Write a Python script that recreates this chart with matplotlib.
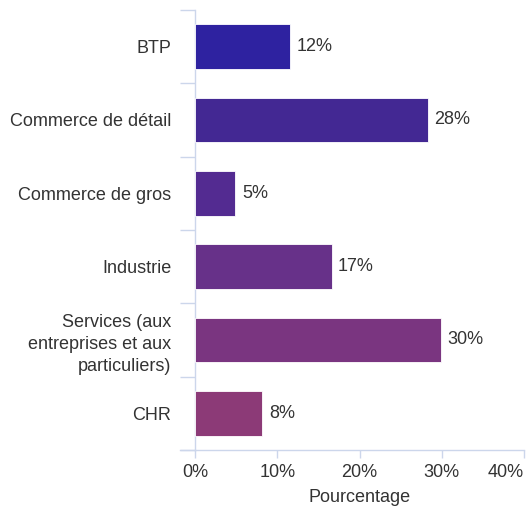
import matplotlib
matplotlib.use("Agg")
import matplotlib.pyplot as plt
from matplotlib.lines import Line2D
import numpy as np

categories = ["BTP", "Commerce de détail", "Commerce de gros", "Industrie",
              "Services (aux\nentreprises et aux\nparticuliers)", "CHR"]
values = [11.6, 28.3, 4.9, 16.6, 29.9, 8.2]
colors = ["#2e22a0", "#432893", "#532b91", "#673189", "#7a3580", "#8c3a77"]
xticks = [0, 10, 20, 30, 40]
xticklabels = ["0%", "10%", "20%", "30%", "40%"]

plt.rcParams['font.family'] = ['Liberation Sans', 'DejaVu Sans']

W, H = 528, 508
fig = plt.figure(figsize=(W/100, H/100), dpi=100)
L, R, T, B = 195, 524, 10, 450
ax = fig.add_axes([L/W, 1-B/H, (R-L)/W, (B-T)/H])

y = np.arange(len(categories))
ax.barh(y, values, height=0.61, color=colors, edgecolor="white", linewidth=0.6, zorder=3)
ax.set_ylim(len(categories)-0.5, -0.5)
ax.set_xlim(0, 40)

for yi, v in zip(y, values):
    ax.text(v + 0.8, yi, f"{round(v):d}%", va="center", ha="left",
            fontsize=13, color="#333333")

ax.set_yticks(y)
ax.set_yticklabels(categories, fontsize=13, color="#333333", linespacing=1.4)
ax.set_yticks(np.arange(-0.5, len(categories)), minor=True)
ax.tick_params(axis="y", which="major", length=0, pad=17)
ax.tick_params(axis="y", which="minor", length=11, color="#ccd6eb", width=1, direction="out")

ax.set_xticks(xticks)
ax.set_xticklabels(xticklabels, fontsize=13, color="#333333")
ax.get_xticklabels()[-1].set_horizontalalignment("right")
ax.tick_params(axis="x", which="major", length=6, color="#ccd6eb", width=1, pad=4)
ax.set_xlabel("Pourcentage", fontsize=13, color="#333333", labelpad=6)

for s in ["top", "right"]:
    ax.spines[s].set_visible(False)
ax.spines["left"].set_color("#ccd6eb")
ax.spines["bottom"].set_color("#ccd6eb")
ax.spines["left"].set_linewidth(1)
ax.spines["bottom"].set_linewidth(1)

# extend bottom axis line to the left, as in the reference
fig.add_artist(Line2D([180/W, L/W], [1-B/H, 1-B/H], color="#ccd6eb", linewidth=1,
                      transform=fig.transFigure))

fig.savefig("out.png", dpi=100, facecolor="white")
